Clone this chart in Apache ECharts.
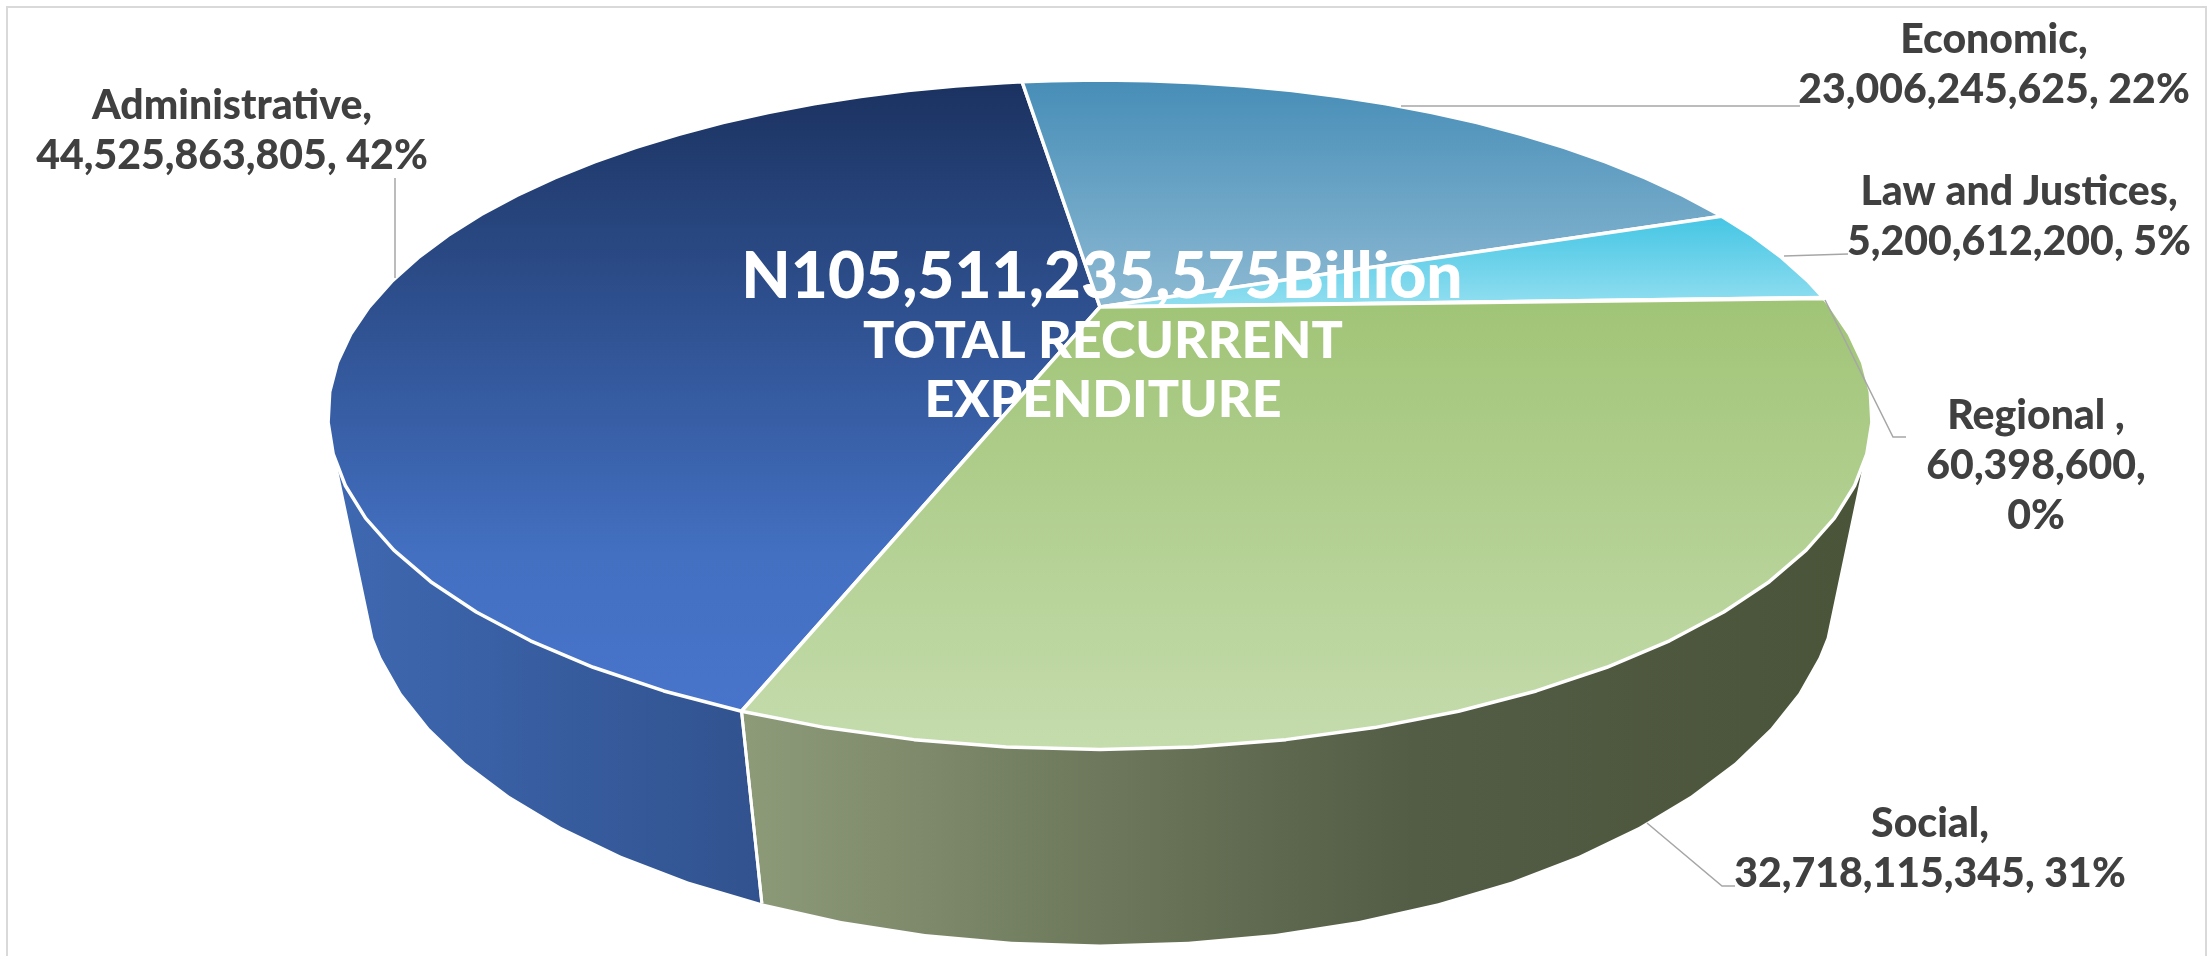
<!DOCTYPE html>
<html>
<head>
<meta charset="utf-8">
<title>Total recurrent expenditure</title>
<script src="https://cdn.jsdelivr.net/npm/echarts@6/dist/echarts.min.js"></script>
<style>
  html, body { margin: 0; padding: 0; background: #fff; }
  #chart { width: 2208px; height: 956px; }
</style>
</head>
<body>
<div id="chart"></div>
<script>
// values as printed on the chart
const categories = ['Administrative', 'Economic', 'Law and Justices', 'Regional ', 'Social'];
const amounts = [44525863805, 23006245625, 5200612200, 60398600, 32718115345];
const centerLines = ['N105,511,235,575Billion', 'TOTAL RECURRENT', 'EXPENDITURE'];

// top face colours, top to bottom of each slice
const capColors = [
    [[0, '#1b3260'], [0.75, '#4370c1'], [1, '#4874cb']],
    [[0, '#468db7'], [1, '#8ebad3']],
    [[0, '#43c5e4'], [1, '#94dff0']],
    [[0, '#a0c476'], [1, '#a0c476']],
    [[0, '#a0c476'], [1, '#c5dcad']]
];
// side wall colours, left to right
const wallColors = [
    [[0, '#3e68b1'], [1, '#31528e']],
    [[0, '#8e9b79'], [1, '#8e9b79']],
    [[0, '#8e9b79'], [1, '#8e9b79']],
    [[0, '#8e9b79'], [1, '#8e9b79']],
    [[0, '#8e9b79'], [0.35, '#6a7559'], [0.6, '#535c45'], [1, '#4a5439']]
];

// label anchor (centre x, first line y) and leader line
const labelLayout = [
    { x: 232, y: 106, leader: [[395, 178], [395, 278]] },
    { x: 1994, y: 40, leader: [[1401, 106], [1800, 106]] },
    { x: 2019, y: 192, leader: [[1784, 256], [1848, 254]] },
    { x: 2036, y: 416, leader: [[1825, 300], [1893, 437], [1906, 437]], wrapPercent: true },
    { x: 1930, y: 824, leader: [[1647, 823], [1722, 886], [1735, 886]] }
];

// perspective of the pie, fitted to the picture
const apexX = 1100, apexY = 307;
const radiusX = 731, radiusY = 300, tilt = 0.322;
const wallDrop = 159, wallShrink = 0.042;
const startAngle = 200.0;      // clockwise from the back of the pie
const wallFrom = 117.2, wallTo = 242.8;  // part of the wall that faces the viewer
const facet = 5;

const total = amounts.reduce((a, b) => a + b, 0);
const sliceAngles = [];
let running = startAngle;
amounts.forEach(v => {
    const sweep = v / total * 360;
    sliceAngles.push([running, running + sweep]);
    running += sweep;
});

function project(deg, lower) {
    const r = deg * Math.PI / 180;
    const u = Math.sin(r), v = -Math.cos(r);
    const s = 1 / (1 - tilt * v + (lower ? wallShrink : 0));
    return [apexX + radiusX * u * s, apexY + (radiusY * v + (lower ? wallDrop : 0)) * s];
}

// rim is faceted every few degrees, like the original
function rimAngles(from, to) {
    const list = [from];
    for (let a = Math.ceil(from / facet + 1e-6) * facet; a < to; a += facet) list.push(a);
    list.push(to);
    return list;
}

function renderCap(params, api) {
    const i = api.value(0);
    const [from, to] = sliceAngles[i];
    const points = [[apexX, apexY]].concat(rimAngles(from, to).map(a => project(a, false)));
    return {
        type: 'polygon',
        shape: { points: points },
        style: {
            fill: new echarts.graphic.LinearGradient(0, 0, 0, 1,
                capColors[i].map(c => ({ offset: c[0], color: c[1] }))),
            stroke: '#fff',
            lineWidth: 3.5,
            lineJoin: 'round'
        }
    };
}

function renderWall(params, api) {
    const i = api.value(0);
    const [a0, a1] = sliceAngles[i];
    // the angles run past 360, so try the slice one turn back as well
    const pieces = [];
    [0, -360].forEach(shift => {
        const from = Math.max(a0 + shift, wallFrom);
        const to = Math.min(a1 + shift, wallTo);
        if (to <= from) return;
        const angles = rimAngles(from, to);
        const top = angles.map(a => project(a, false));
        const bottom = angles.map(a => project(a, true)).reverse();
        pieces.push({
            type: 'polygon',
            shape: { points: top.concat(bottom) },
            style: {
                fill: new echarts.graphic.LinearGradient(0, 0, 1, 0,
                    wallColors[i].map(c => ({ offset: c[0], color: c[1] })))
            }
        });
        // white seam where a slice boundary shows on the wall
        [from, to].forEach((a, k) => {
            if (a === (k ? wallTo : wallFrom)) return;
            pieces.push({
                type: 'line',
                z2: 5,
                shape: {
                    x1: project(a, false)[0], y1: project(a, false)[1],
                    x2: project(a, true)[0], y2: project(a, true)[1]
                },
                style: { stroke: '#fff', lineWidth: 3 }
            });
        });
    });
    return { type: 'group', children: pieces };
}

function labelText(i) {
    const money = amounts[i].toLocaleString('en-US');
    const pct = Math.round(amounts[i] / total * 100) + '%';
    const tail = labelLayout[i].wrapPercent ? money + ',\n' + pct : money + ', ' + pct;
    return categories[i] + ',\n' + tail;
}

function renderLabel(params, api) {
    const i = api.value(0);
    const l = labelLayout[i];
    return {
        type: 'group',
        children: [
            {
                type: 'polyline',
                shape: { points: l.leader },
                style: { fill: null, stroke: '#a6a6a6', lineWidth: 1.5 }
            },
            {
                type: 'text',
                x: l.x,
                y: l.y - 25,
                style: {
                    text: labelText(i),
                    fill: '#404040',
                    font: '900 41px Lato',
                    lineHeight: 50,
                    align: 'center',
                    verticalAlign: 'top'
                }
            }
        ]
    };
}

const chart = echarts.init(document.getElementById('chart'));
const rows = categories.map((c, i) => [i, amounts[i]]);

chart.setOption({
    animation: false,
    backgroundColor: '#fff',
    tooltip: { show: false },
    series: [
        { type: 'custom', coordinateSystem: 'none', silent: true, z: 1, renderItem: renderWall, data: rows },
        { type: 'custom', coordinateSystem: 'none', silent: true, z: 2, renderItem: renderCap, data: rows },
        { type: 'custom', coordinateSystem: 'none', silent: true, z: 3, renderItem: renderLabel, data: rows }
    ],
    graphic: [
        {
            type: 'rect',
            z: 0,
            shape: { x: 7, y: 7, width: 2199, height: 970 },
            style: { fill: null, stroke: '#d9d9d9', lineWidth: 2 }
        },
        {
            type: 'text', z: 10, x: 1102, y: 277,
            style: { text: centerLines[0], fill: '#fff', font: '900 64px Lato', align: 'center', verticalAlign: 'middle' }
        },
        {
            type: 'text', z: 10, x: 1103, y: 341,
            style: { text: centerLines[1], fill: '#fff', font: '900 52px Lato', align: 'center', verticalAlign: 'middle' }
        },
        {
            type: 'text', z: 10, x: 1103, y: 400,
            style: { text: centerLines[2], fill: '#fff', font: '900 52px Lato', align: 'center', verticalAlign: 'middle' }
        }
    ]
});
</script>
</body>
</html>
